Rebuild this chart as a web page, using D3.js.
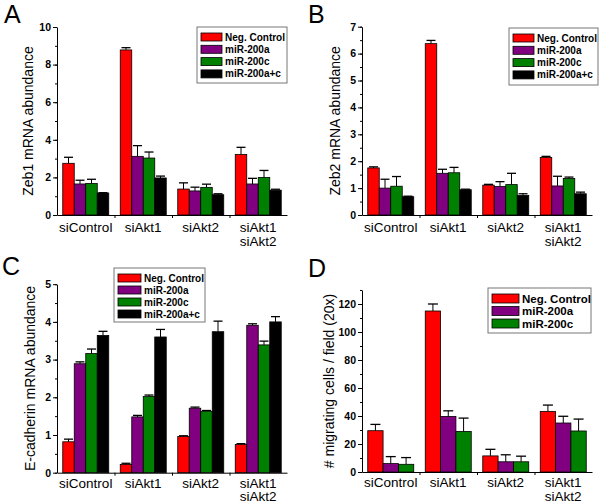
<!DOCTYPE html>
<html>
<head>
<meta charset="utf-8">
<script src="https://cdn.jsdelivr.net/npm/d3@7"></script>
<style>
  body { margin: 0; background: #fff; }
  svg { display: block; font-family: "Liberation Sans", Arial, sans-serif; }
  .tick text { font-weight: bold; font-size: 10.5px; fill: #000; }
  .domain, .tick line { stroke: #000; }
</style>
</head>
<body>
<svg id="fig" width="600" height="503"></svg>
<script>
// four panels of grouped bars (mean + upper error bar)
const groups = ["siControl", "siAkt1", "siAkt2", "siAkt1|siAkt2"];
const series4 = ["Neg. Control", "miR-200a", "miR-200c", "miR-200a+c"];
const series3 = ["Neg. Control", "miR-200a", "miR-200c"];
const colors = ["#ff0000", "#800080", "#008000", "#000000"];

// rows = groups, columns = series
const zeb1Values = [[2.75, 1.65, 1.68, 1.17], [8.78, 3.12, 3.03, 1.97], [1.38, 1.28, 1.47, 1.08], [3.22, 1.65, 2.0, 1.32]];
const zeb1Errors = [[0.32, 0.2, 0.22, 0.02], [0.12, 0.57, 0.32, 0.1], [0.33, 0.2, 0.17, 0.05], [0.38, 0.3, 0.37, 0.05]];

const zeb2Values = [[1.75, 1.0, 1.07, 0.68], [6.37, 1.55, 1.57, 0.94], [1.11, 1.06, 1.13, 0.73], [2.14, 1.08, 1.36, 0.79]];
const zeb2Errors = [[0.04, 0.33, 0.36, 0.02], [0.12, 0.15, 0.2, 0.02], [0.03, 0.18, 0.42, 0.06], [0.04, 0.36, 0.05, 0.06]];

const ecadValues = [[0.82, 2.89, 3.16, 3.64], [0.22, 1.48, 2.02, 3.6], [0.96, 1.71, 1.63, 3.74], [0.75, 3.91, 3.39, 4.0]];
const ecadErrors = [[0.07, 0.05, 0.12, 0.11], [0.03, 0.04, 0.04, 0.2], [0.02, 0.03, 0.02, 0.28], [0.02, 0.04, 0.1, 0.14]];

const migValues = [[29.5, 6, 5.5], [115, 39.7, 29], [11.5, 7.3, 7.3], [43.3, 35, 29.3]];
const migErrors = [[4.5, 5, 4.8], [5, 4, 9.5], [4.7, 5, 4], [4.5, 4.8, 8.5]];

const svg = d3.select("#fig");
svg.append("rect").attr("width", 600).attr("height", 503).attr("fill", "#fff");

function drawPanel(p) {
    const g = svg.append("g");

    const x = d3.scaleLinear().domain([0.5, 4.5]).range([p.x0, p.x1]);
    const y = d3.scaleLinear().domain(p.yDomain).range([p.yBottom, p.yBottom - p.pxPerUnit * p.yDomain[1]]);

    const inner = d3.scaleBand().domain(d3.range(p.series.length)).range([-0.4, 0.4]);

    // bars
    p.values.forEach((row, gi) => {
        row.forEach((v, si) => {
            const left = x(gi + 1 + inner(si));
            const w = x(gi + 1 + inner(si) + inner.bandwidth()) - left;
            const cx = left + w / 2;
            const top = y(v + p.errors[gi][si]);
            g.append("line")
                .attr("x1", cx).attr("x2", cx)
                .attr("y1", y(v)).attr("y2", top)
                .attr("stroke", "#000").attr("stroke-width", 1);
            g.append("line")
                .attr("x1", cx - p.cap).attr("x2", cx + p.cap)
                .attr("y1", top).attr("y2", top)
                .attr("stroke", "#000").attr("stroke-width", 1.3);
            g.append("rect")
                .attr("x", left).attr("y", y(v))
                .attr("width", w).attr("height", y(0) - y(v))
                .attr("fill", colors[si])
                .attr("stroke", "#000").attr("stroke-width", 0.8);
        });
    });

    // y axis: minor then major ticks
    g.append("g")
        .attr("transform", `translate(${p.x0},0)`)
        .call(d3.axisLeft(y).tickValues(d3.range(p.yDomain[0], p.yDomain[1] + 1e-9, p.minor)).tickSize(2).tickFormat(""))
        .select(".domain").remove();
    g.append("g")
        .attr("transform", `translate(${p.x0},0)`)
        .call(d3.axisLeft(y)
            .tickValues(d3.range(p.yDomain[0], p.yMaxLabel + 1e-9, p.major))
            .tickFormat(d3.format("d"))
            .tickSize(4).tickSizeOuter(0).tickPadding(2));

    // x axis with separators between groups
    g.append("g")
        .attr("transform", `translate(0,${p.yBottom})`)
        .call(d3.axisBottom(x).tickValues([1.5, 2.5, 3.5]).tickSize(3).tickSizeOuter(0).tickFormat(""));

    groups.forEach((name, i) => {
        const t = g.append("text")
            .attr("x", x(i + 1))
            .attr("y", p.yBottom + p.labelOff)
            .attr("text-anchor", "middle")
            .style("font-size", "13.5px");
        name.split("|").forEach((line, li) => {
            t.append("tspan").attr("x", x(i + 1)).attr("dy", li === 0 ? 0 : 13.5).text(line);
        });
    });

    // y title
    g.append("text")
        .attr("transform", `translate(${p.x0 - p.titleOff},${(p.yBottom + y(p.yDomain[1])) / 2}) rotate(-90)`)
        .attr("text-anchor", "middle")
        .style("font-size", "14px")
        .text(p.yTitle);

    // panel letter
    g.append("text")
        .attr("x", p.letterX).attr("y", p.letterY)
        .style("font-size", "25px")
        .text(p.letter);

    // legend
    const lg = g.append("g").attr("transform", `translate(${p.legend.x},${p.legend.y})`);
    lg.append("rect")
        .attr("width", p.legend.w).attr("height", p.legend.h)
        .attr("fill", "#fff").attr("stroke", "#777").attr("stroke-width", 1);
    p.series.forEach((s, i) => {
        const ry = p.legend.pad + i * p.legend.row;
        lg.append("rect")
            .attr("x", 4).attr("y", ry)
            .attr("width", p.legend.sw).attr("height", p.legend.sh)
            .attr("fill", colors[i]).attr("stroke", "#000").attr("stroke-width", 0.8);
        lg.append("text")
            .attr("x", p.legend.sw + 7).attr("y", ry + p.legend.sh / 2)
            .attr("dy", "0.35em")
            .style("font-size", p.legend.fs)
            .style("font-weight", "bold")
            .text(s);
    });
}

drawPanel({
    letter: "A", letterX: 4, letterY: 23,
    x0: 57, x1: 287, yBottom: 215, pxPerUnit: 18.8, yDomain: [0, 10], yMaxLabel: 10, major: 2, minor: 1,
    values: zeb1Values, errors: zeb1Errors, series: series4, cap: 4.5,
    yTitle: "Zeb1 mRNA abundance", titleOff: 24, labelOff: 17,
    legend: {x: 197, y: 27, w: 90, h: 56, pad: 6, row: 12.3, sw: 21, sh: 8, fs: "10px"}
});

drawPanel({
    letter: "B", letterX: 308, letterY: 23,
    x0: 362, x1: 592, yBottom: 215, pxPerUnit: 26.9, yDomain: [0, 7], yMaxLabel: 7, major: 1, minor: 0.5,
    values: zeb2Values, errors: zeb2Errors, series: series4, cap: 4.5,
    yTitle: "Zeb2 mRNA abundance", titleOff: 22, labelOff: 17,
    legend: {x: 509, y: 28, w: 89, h: 57, pad: 6, row: 12.3, sw: 21, sh: 8, fs: "10px"}
});

drawPanel({
    letter: "C", letterX: 2, letterY: 275,
    x0: 57, x1: 287, yBottom: 472.7, pxPerUnit: 37.7, yDomain: [0, 5], yMaxLabel: 5, major: 1, minor: 0.5,
    values: ecadValues, errors: ecadErrors, series: series4, cap: 4.5,
    yTitle: "E-cadherin mRNA abundance", titleOff: 22, labelOff: 15,
    legend: {x: 114, y: 268, w: 91, h: 54, pad: 6, row: 12, sw: 23, sh: 8, fs: "10px"}
});

drawPanel({
    letter: "D", letterX: 308, letterY: 277,
    x0: 362, x1: 592, yBottom: 472, pxPerUnit: 1.4, yDomain: [0, 130], yMaxLabel: 120, major: 20, minor: 10,
    values: migValues, errors: migErrors, series: series3, cap: 5,
    yTitle: "# migrating cells / field (20x)", titleOff: 28, labelOff: 15,
    legend: {x: 488, y: 288, w: 103, h: 45, pad: 6, row: 12.5, sw: 27, sh: 9, fs: "11.5px"}
});
</script>
</body>
</html>
